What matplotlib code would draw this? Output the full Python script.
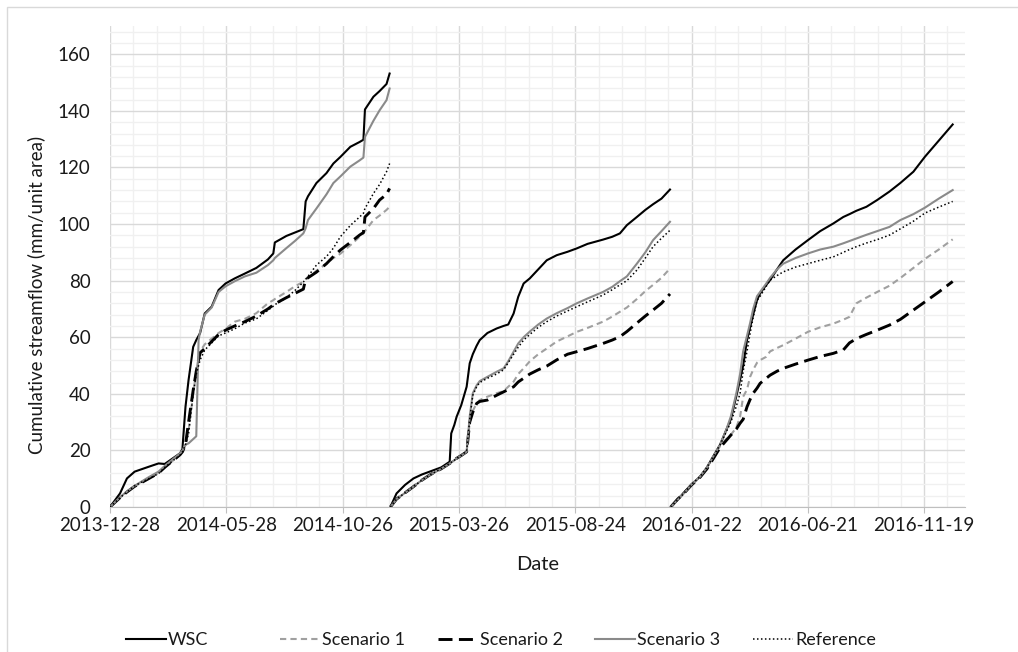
import numpy as np
import pandas as pd
import matplotlib
matplotlib.use("Agg")
import matplotlib.pyplot as plt
from matplotlib.ticker import FixedLocator, MultipleLocator
from matplotlib.patches import Rectangle

# days since 2013-12-28, one list per hydrological year
START = "2013-12-28"
days_y1 = [0, 13, 22, 32, 50, 63, 71, 91, 94, 98,
           102, 108, 112, 115, 117, 123, 132, 141, 150, 162,
           175, 190, 205, 212, 214, 229, 240, 251, 254, 257,
           268, 281, 290, 299, 312, 324, 329, 331, 342, 350,
           359, 363]
days_y2 = [364, 372, 383, 394, 405, 415, 430, 441, 443, 447,
           450, 456, 463, 467, 471, 476, 480, 490, 502, 511,
           517, 524, 530, 537, 545, 556, 567, 580, 594, 606,
           620, 640, 652, 662, 671, 684, 695, 705, 716, 727]
days_y3 = [728, 737, 744, 755, 766, 775, 783, 792, 800, 806,
           813, 818, 822, 827, 831, 835, 840, 844, 852, 857,
           866, 874, 890, 906, 922, 939, 952, 960, 969, 982,
           996, 1012, 1026, 1043, 1058, 1076, 1094]

# cumulative streamflow (mm/unit area), years concatenated
wsc = [0, 4.8, 10.1, 12.5, 14.2, 15.4, 15.2, 19.0, 20.5, 35.4,
       44.9, 56.6, 59.0, 60.5, 61.5, 68.4, 70.8, 76.7, 79.0, 80.8,
       82.5, 84.5, 87.5, 89.6, 93.5, 95.8, 97.0, 98.2, 108.0, 109.8,
       114.5, 118.0, 121.4, 123.7, 127.3, 129.0, 129.8, 140.5, 145.0, 147.0,
       149.5, 153.2,
       0, 4.8, 7.8, 10.1, 11.5, 12.5, 14.0, 16.0, 26.0, 29.0,
       31.9, 36.0, 42.5, 50.8, 54.0, 57.0, 59.0, 61.5, 63.1, 64.0,
       64.5, 68.4, 74.3, 79.0, 80.8, 84.0, 87.2, 89.0, 90.2, 91.4,
       93.0, 94.5, 95.5, 96.7, 99.6, 102.5, 105.0, 107.0, 109.0, 112.2,
       0, 2.5, 4.8, 8.0, 10.7, 14.0, 17.8, 22.0, 27.2, 31.0,
       39.0, 45.0, 50.0, 59.0, 63.5, 68.0, 73.1, 75.5, 78.5, 80.2,
       84.0, 87.2, 91.0, 94.3, 97.5, 100.2, 102.5, 103.5, 104.7, 106.1,
       108.5, 111.5, 114.5, 118.5, 123.8, 129.5, 135.2]
scenario_1 = [0, 3.3, 5.3, 7.3, 10.0, 12.0, 14.0, 18.5, 19.5, 22.0,
              27.0, 40.0, 48.0, 53.0, 55.0, 57.5, 59.5, 61.5, 63.0, 65.5,
              66.5, 68.5, 72.0, 73.1, 73.5, 76.0, 78.0, 79.6, 80.5, 81.0,
              83.5, 86.0, 88.0, 89.5, 92.5, 95.5, 96.7, 97.5, 101.4, 103.0,
              105.0, 106.1,
              0, 2.8, 5.0, 7.2, 9.5, 11.3, 13.5, 15.4, 15.8, 16.5,
              17.2, 18.2, 19.5, 30.0, 34.0, 36.6, 37.8, 39.0, 40.2, 41.0,
              42.5, 44.3, 47.0, 49.0, 51.5, 54.0, 56.0, 58.5, 60.3, 61.9,
              63.3, 65.5, 67.3, 69.0, 70.5, 73.5, 76.3, 78.5, 81.0, 84.3,
              0, 2.8, 4.5, 7.8, 10.5, 14.0, 17.5, 21.5, 24.0, 25.5,
              28.0, 31.9, 39.0, 41.5, 46.0, 48.5, 51.0, 51.9, 53.1, 55.0,
              56.2, 57.2, 59.5, 61.9, 63.5, 64.8, 66.2, 67.2, 72.0, 74.0,
              76.0, 78.2, 80.9, 84.5, 87.7, 91.0, 94.6]
scenario_2 = [0, 3.3, 5.3, 7.3, 10.0, 12.0, 14.0, 18.5, 19.5, 22.0,
              30.0, 41.3, 48.0, 52.0, 54.5, 56.0, 58.5, 61.0, 62.5, 64.0,
              65.5, 67.5, 70.0, 71.4, 71.8, 74.0, 75.5, 77.0, 80.5, 81.0,
              83.0, 86.0, 88.5, 90.8, 93.5, 96.1, 97.0, 102.5, 105.5, 108.5,
              110.5, 112.6,
              0, 2.8, 5.0, 7.2, 9.5, 11.3, 13.5, 15.4, 15.8, 16.5,
              17.2, 18.2, 19.5, 30.0, 33.5, 36.6, 37.3, 37.8, 39.5, 40.7,
              41.5, 42.5, 44.2, 45.5, 47.0, 48.5, 49.8, 52.0, 54.0, 54.9,
              56.0, 57.8, 59.0, 60.2, 62.0, 65.0, 67.5, 69.6, 72.0, 75.3,
              0, 2.8, 4.5, 7.8, 10.5, 13.5, 17.0, 21.0, 23.5, 25.4,
              27.5, 29.6, 31.0, 35.4, 38.0, 40.2, 42.0, 43.7, 45.5, 46.6,
              48.0, 49.0, 50.5, 51.9, 53.2, 54.3, 55.5, 58.0, 59.5, 61.0,
              62.5, 64.3, 66.3, 69.6, 72.5, 76.0, 79.7]
scenario_3 = [0, 3.5, 5.5, 7.5, 10.5, 12.5, 14.5, 19.0, 20.0, 22.0,
              22.5, 24.0, 25.0, 59.0, 62.0, 68.0, 70.5, 76.0, 78.0, 79.8,
              81.5, 82.8, 85.5, 87.2, 88.0, 91.5, 94.0, 96.7, 98.5, 101.4,
              105.5, 110.5, 114.5, 116.8, 120.3, 122.5, 123.5, 130.8, 136.5, 140.2,
              143.8, 147.9,
              0, 2.8, 5.0, 7.2, 9.5, 11.3, 13.5, 15.4, 15.8, 16.5,
              17.2, 18.2, 19.5, 32.0, 40.2, 43.0, 44.5, 46.0, 47.8, 49.0,
              51.5, 54.9, 57.8, 60.0, 62.0, 64.5, 66.6, 68.5, 70.3, 72.0,
              73.7, 76.0, 77.8, 79.8, 81.5, 86.0, 90.0, 94.3, 97.5, 100.8,
              0, 2.5, 4.5, 8.0, 10.7, 14.0, 17.8, 22.0, 27.2, 32.0,
              40.0, 47.0, 55.0, 60.5, 65.0, 70.0, 74.5, 76.0, 79.0, 81.0,
              84.0, 86.0, 88.0, 89.6, 91.0, 92.0, 93.2, 94.0, 94.9, 96.2,
              97.5, 99.0, 101.4, 103.5, 105.8, 109.0, 112.0]
reference = [0, 3.3, 5.3, 7.5, 10.0, 11.8, 14.0, 18.4, 19.5, 22.0,
             26.0, 40.0, 47.0, 50.0, 52.0, 55.5, 58.0, 60.5, 61.5, 63.0,
             65.0, 66.5, 69.5, 71.0, 71.5, 74.0, 76.5, 79.5, 80.5, 81.5,
             85.5, 88.5, 91.5, 95.5, 99.5, 102.5, 103.8, 105.5, 110.8, 114.0,
             118.5, 121.4,
             0, 2.8, 5.0, 7.2, 9.5, 11.3, 13.5, 15.4, 15.8, 16.5,
             17.2, 18.2, 19.8, 31.0, 39.5, 42.5, 44.0, 45.5, 47.0, 48.5,
             51.0, 54.0, 56.5, 59.0, 61.0, 63.5, 65.5, 67.5, 69.3, 70.8,
             72.5, 74.9, 76.8, 78.5, 80.0, 83.7, 88.0, 92.0, 95.0, 97.8,
             0, 2.5, 4.5, 8.0, 10.7, 14.0, 17.8, 22.0, 26.5, 30.0,
             35.5, 40.2, 48.0, 55.0, 61.4, 67.0, 73.0, 74.5, 78.0, 80.2,
             81.8, 83.1, 84.8, 86.0, 87.2, 88.4, 90.0, 91.0, 92.0, 93.3,
             94.5, 96.1, 98.3, 101.0, 103.9, 106.0, 108.0]

series_names = ["WSC", "Scenario 1", "Scenario 2", "Scenario 3", "Reference"]
series_values = [wsc, scenario_1, scenario_2, scenario_3, reference]
styles = [
    dict(color="#000000", lw=1.5, ls="-"),
    dict(color="#a0a0a0", lw=1.5, ls=(0, (3, 2))),
    dict(color="#000000", lw=2.1, ls=(0, (4.8, 2.2))),
    dict(color="#8a8a8a", lw=1.5, ls="-"),
    dict(color="#000000", lw=1.1, ls=(0, (1, 1.6))),
]

W, H = 1018, 652
plt.rcParams["font.family"] = ["Lato", "DejaVu Sans"]
FS = 13.5

fig = plt.figure(figsize=(W / 100, H / 100), dpi=100)
ax = fig.add_axes([110 / W, 1 - 507 / H, (965 - 110) / W, (507 - 26) / H])

t0 = pd.Timestamp(START)
all_days = days_y1 + days_y2 + days_y3
dates = t0 + pd.to_timedelta(all_days, unit="D")
cuts = np.cumsum([len(days_y1), len(days_y2)])

handles = []
for name, vals, st in zip(series_names, series_values, styles):
    for i, (xs, ys) in enumerate(zip(np.split(np.asarray(dates), cuts),
                                     np.split(np.asarray(vals), cuts))):
        ln, = ax.plot(xs, ys, color=st["color"], lw=st["lw"], ls=st["ls"],
                      solid_joinstyle="round", label=name if i == 0 else None)
        if i == 0:
            handles.append(ln)

# axes: Excel style date axis, 151 day major unit
ax.set_ylim(0, 170)
ax.yaxis.set_major_locator(FixedLocator(np.arange(0, 161, 20)))
ax.yaxis.set_minor_locator(MultipleLocator(4))
major_x = [t0 + pd.Timedelta(days=151 * k) for k in range(8)]
minor_x = [t0 + pd.Timedelta(days=30.2 * k) for k in range(37)]
ax.set_xlim(t0, t0 + pd.Timedelta(days=1110))
ax.set_xticks(major_x)
ax.set_xticklabels([d.strftime("%Y-%m-%d") for d in major_x])
ax.xaxis.set_minor_locator(FixedLocator(matplotlib.dates.date2num(minor_x)))

ax.grid(which="major", color="#d9d9d9", lw=1)
ax.grid(which="minor", color="#f0f0f0", lw=1)
ax.set_axisbelow(True)
for s in ["left", "top", "right"]:
    ax.spines[s].set_visible(False)
ax.spines["bottom"].set_color("#bfbfbf")
ax.tick_params(axis="y", which="both", length=0, pad=14, labelsize=FS, labelcolor="#1a1a1a")
ax.tick_params(axis="x", which="major", length=4, color="#bfbfbf", pad=3, labelsize=FS,
               labelcolor="#1a1a1a")
ax.tick_params(axis="x", which="minor", length=0)

ax.set_ylabel("Cumulative streamflow (mm/unit area)", fontsize=FS, labelpad=8,
              color="#1a1a1a")
ax.yaxis.set_label_coords(-0.076, 0.44)
ax.set_xlabel("Date", fontsize=FS + 1, labelpad=16, color="#1a1a1a")

# legend, equal width slots like Excel
leg_x = [126, 280, 438, 595, 753]
for h, name, x in zip(handles, series_names, leg_x):
    fig.legend(handles=[h], labels=[name], loc="center left",
               bbox_to_anchor=(x / W, 1 - 640 / H), frameon=False,
               borderpad=0, borderaxespad=0, handlelength=2.2,
               handletextpad=0.12, fontsize=FS - 0.5, labelcolor="#1a1a1a")

# chart area border (top and left visible)
fig.patches.append(Rectangle((7 / W, -0.5), 1.5, 1.5 - 6.5 / H, transform=fig.transFigure,
                             fill=False, edgecolor="#d9d9d9", lw=1))

fig.savefig("out.png", dpi=100)
